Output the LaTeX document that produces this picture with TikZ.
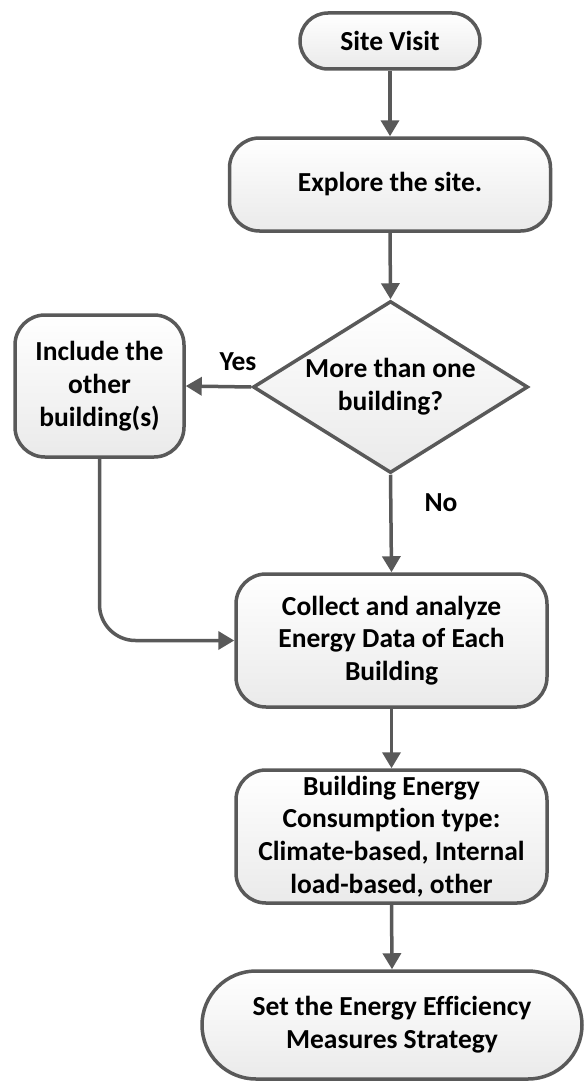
\documentclass[tikz,border=0pt]{standalone}
\usepackage{fontspec}
\setmainfont{Carlito}[Ligatures={NoCommon,NoContextual,NoRare}]
\usetikzlibrary{shapes.geometric,arrows.meta}
\definecolor{edge}{HTML}{595959}
\definecolor{fillbot}{HTML}{EAEAEA}
\tikzset{
  boxbase/.style={draw=edge, line width=3.5pt, top color=white, bottom color=fillbot,
    align=center, inner sep=0pt, font=\fontsize{27.5}{32.7}\selectfont\bfseries},
  procbox/.style={boxbase, rectangle, rounded corners=30pt},
  termbox/.style={boxbase, rectangle},
  decbox/.style={boxbase, diamond, aspect=1.6},
  conn/.style={draw=edge, line width=3.5pt, -{Triangle[width=18pt,length=16pt]}},
  lbl/.style={inner sep=0pt, font=\fontsize{27.5}{32.7}\selectfont\bfseries}
}
\begin{document}
\begin{tikzpicture}[x=1pt,y=-1pt]
\useasboundingbox (0,0) rectangle (585,1081);
\node[termbox, rounded corners=28pt, minimum width=180pt, minimum height=56pt] (site) at (390,41) {Site Visit};
\node[procbox, minimum width=321pt, minimum height=93pt] (explore) at (390,184.5) {Explore the site.};
\node[decbox, minimum width=275pt, minimum height=172pt] (dec) at (390.5,387) {More than one\\building?};
\node[procbox, minimum width=169pt, minimum height=142pt] (inc) at (99.5,386) {Include the\\other\\building(s)};
\node[procbox, minimum width=311pt, minimum height=133pt] (collect) at (391.5,640.5) {Collect and analyze\\Energy Data of Each\\Building};
\node[procbox, minimum width=311pt, minimum height=133pt] (type) at (391.5,836.5) {Building Energy\\Consumption type:\\Climate-based, Internal\\load-based, other};
\node[termbox, rounded corners=54pt, minimum width=380pt, minimum height=108pt] (final) at (392,1025) {Set the Energy Efficiency\\Measures Strategy};
\node[lbl] (yes) at (238,362) {Yes};
\node[lbl] (no) at (441,503) {No};
\draw[conn] (site.south) -- (explore.north);
\draw[conn] (explore.south) -- (dec.north);
\draw[conn] (dec.west) -- (inc.east);
\draw[conn] (dec.south) -- (collect.north);
\draw[conn, rounded corners=36pt] (inc.south) |- (collect.west);
\draw[conn] (collect.south) -- (type.north);
\draw[conn] (type.south) -- (final.north);
\end{tikzpicture}
\end{document}
